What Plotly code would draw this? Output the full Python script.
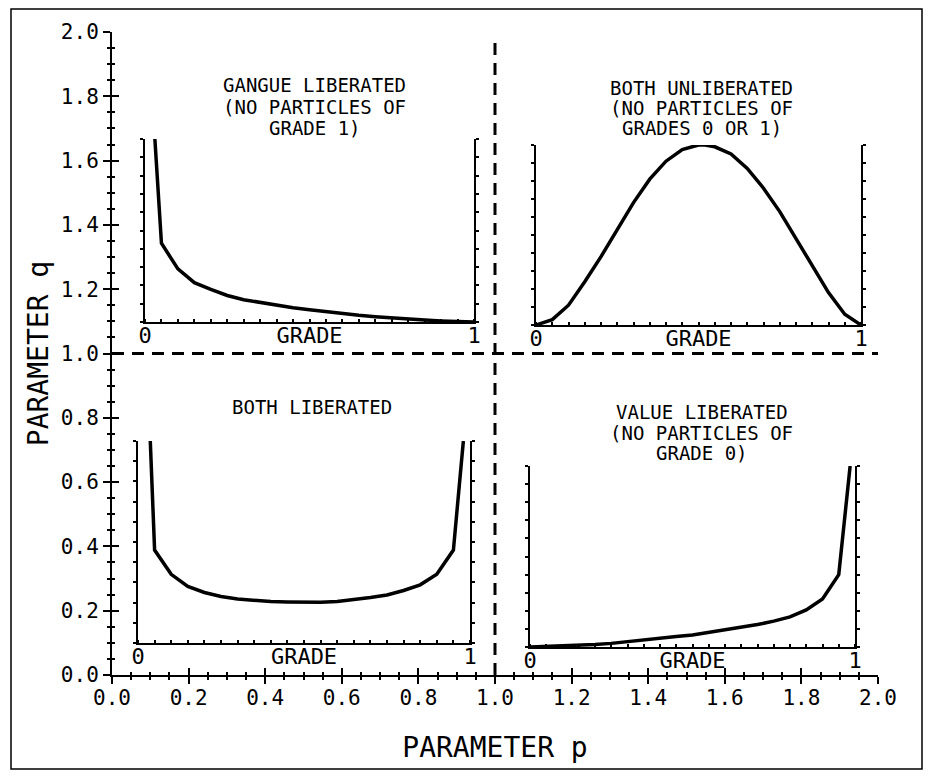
import plotly.graph_objects as go

# ---------------- data ----------------
# main axes (parameter p horizontally, parameter q vertically)
axis_tick_vals = [0.0, 0.2, 0.4, 0.6, 0.8, 1.0, 1.2, 1.4, 1.6, 1.8, 2.0]
axis_tick_text = ["0.0", "0.2", "0.4", "0.6", "0.8", "1.0", "1.2", "1.4", "1.6", "1.8", "2.0"]

# dashed dividers at p = 1 and q = 1
divider_v_p = [1.0, 1.0]
divider_v_q = [0.0, 1.975]
divider_h_p = [0.0, 2.0]
divider_h_q = [1.0, 1.0]

# inset curves: grade (0..1) vs relative frequency (0..1 of inset height)
gangue_grade = [0.03, 0.05, 0.10, 0.15, 0.20, 0.25, 0.30, 0.35, 0.40, 0.45, 0.50,
                0.55, 0.60, 0.65, 0.70, 0.75, 0.80, 0.85, 0.90, 0.95, 1.00]
gangue_freq = [1.00, 0.43, 0.29, 0.215, 0.178, 0.145, 0.122, 0.106, 0.090, 0.078, 0.067,
               0.056, 0.046, 0.037, 0.029, 0.022, 0.016, 0.011, 0.006, 0.003, 0.0]

unlib_grade = [0.0, 0.05, 0.10, 0.15, 0.20, 0.25, 0.30, 0.35, 0.40, 0.45, 0.50, 0.52,
               0.55, 0.60, 0.65, 0.70, 0.75, 0.80, 0.85, 0.90, 0.95, 1.00]
unlib_freq = [0.0, 0.03, 0.11, 0.24, 0.38, 0.53, 0.68, 0.81, 0.91, 0.975, 1.0, 1.0,
              0.99, 0.95, 0.87, 0.76, 0.63, 0.48, 0.33, 0.18, 0.06, 0.0]

bothlib_grade = [0.037, 0.05, 0.10, 0.15, 0.20, 0.25, 0.30, 0.35, 0.40, 0.45, 0.50,
                 0.55, 0.60, 0.65, 0.70, 0.75, 0.80, 0.85, 0.90, 0.95, 0.98]
bothlib_freq = [1.0, 0.46, 0.34, 0.28, 0.25, 0.23, 0.218, 0.21, 0.205, 0.203, 0.202,
                0.202, 0.206, 0.214, 0.225, 0.238, 0.26, 0.288, 0.34, 0.46, 1.0]

value_grade = [0.0, 0.05, 0.10, 0.15, 0.20, 0.25, 0.30, 0.35, 0.40, 0.45, 0.50,
               0.55, 0.60, 0.65, 0.70, 0.75, 0.80, 0.85, 0.90, 0.95, 0.985]
value_freq = [0.0, 0.003, 0.007, 0.010, 0.014, 0.02, 0.03, 0.042, 0.05, 0.058, 0.066,
              0.08, 0.093, 0.107, 0.124, 0.143, 0.166, 0.205, 0.265, 0.40, 1.0]

inset_tick_vals = [0, 0.5, 1]
inset_tick_text = ["0", "GRADE", "1"]

# inset titles: (p, q, text) — one entry per line
titles_p = [0.53, 0.53, 0.53, 1.54, 1.54, 1.54, 0.522, 1.54, 1.54, 1.54]
titles_q = [1.835, 1.767, 1.70, 1.826, 1.764, 1.701, 0.834, 0.818, 0.753, 0.690]
titles_text = ["GANGUE LIBERATED", "(NO PARTICLES OF", "GRADE 1)",
               "BOTH UNLIBERATED", "(NO PARTICLES OF", "GRADES 0 OR 1)",
               "BOTH LIBERATED",
               "VALUE LIBERATED", "(NO PARTICLES OF", "GRADE 0)"]

# ---------------- figure ----------------
FONT = "DejaVu Sans Mono"
OFF = 8                      # default page margin around the plot div
W, H = 933 - 2 * OFF, 778 - 2 * OFF
ML, MT = 112 - OFF, 32 - OFF
MR = W - (878 - OFF)
MB = H - (675 - OFF)
PW, PH = W - ML - MR, H - MT - MB


def fx(px):
    """page pixel x -> paper fraction"""
    return (px - OFF - ML) / PW


def fy(py):
    """page pixel y -> paper fraction"""
    return (H - MB - (py - OFF)) / PH


fig = go.Figure()

dash = dict(color="black", width=3, dash="12px,8px")
fig.add_trace(go.Scatter(x=divider_v_p, y=divider_v_q, mode="lines", line=dash,
                         xaxis="x", yaxis="y", showlegend=False, hoverinfo="skip"))
fig.add_trace(go.Scatter(x=divider_h_p, y=divider_h_q, mode="lines", line=dash,
                         xaxis="x6", yaxis="y6", showlegend=False, hoverinfo="skip"))

curve_line = dict(color="black", width=3.5)
curves = [(gangue_grade, gangue_freq, "2"), (unlib_grade, unlib_freq, "3"),
          (bothlib_grade, bothlib_freq, "4"), (value_grade, value_freq, "5")]
for gx, gy, k in curves:
    fig.add_trace(go.Scatter(x=gx, y=gy, mode="lines", line=curve_line,
                             xaxis="x" + k, yaxis="y" + k, showlegend=False,
                             hoverinfo="skip"))

main_common = dict(range=[0, 2], showgrid=False, zeroline=False, showline=True,
                   linecolor="black", linewidth=2, tickcolor="black", tickwidth=2)

layout = dict(
    width=W, height=H,
    margin=dict(l=ML, r=MR, t=MT, b=MB),
    paper_bgcolor="white", plot_bgcolor="rgba(0,0,0,0)",
    font=dict(family=FONT, color="black"),
    xaxis=dict(**main_common, domain=[0, 1], anchor="y",
               ticks="outside", ticklen=7, tickmode="array",
               tickvals=axis_tick_vals, ticktext=axis_tick_text,
               tickfont=dict(family=FONT, size=21), ticklabelstandoff=-4,
               minor=dict(dtick=0.05, tick0=0, ticks="outside", ticklen=3,
                          tickwidth=2, tickcolor="black"),
               title=dict(text="PARAMETER p", font=dict(family=FONT, size=28),
                          standoff=28)),
    yaxis=dict(**main_common, domain=[0, 1], anchor="x",
               ticks="outside", ticklen=7, tickmode="array",
               tickvals=axis_tick_vals, ticktext=axis_tick_text,
               tickfont=dict(family=FONT, size=21),
               minor=dict(dtick=0.05, tick0=0, ticks="outside", ticklen=3,
                          tickwidth=2, tickcolor="black"),
               title=dict(text="PARAMETER q", font=dict(family=FONT, size=28),
                          standoff=4)),
    xaxis6=dict(range=[0, 2], overlaying="x", anchor="y6", showgrid=False,
                zeroline=False, showline=False, ticks="inside", ticklen=7,
                tickwidth=2, tickcolor="black", tickmode="array",
                tickvals=axis_tick_vals, showticklabels=False,
                minor=dict(dtick=0.05, tick0=0, ticks="inside", ticklen=3,
                           tickwidth=2, tickcolor="black")),
    yaxis6=dict(range=[0, 2], overlaying="y", anchor="x6", showgrid=False,
                zeroline=False, showline=False, ticks="inside", ticklen=7,
                tickwidth=2, tickcolor="black", tickmode="array",
                tickvals=axis_tick_vals, showticklabels=False,
                minor=dict(dtick=0.05, tick0=0, ticks="inside", ticklen=3,
                           tickwidth=2, tickcolor="black")),
)

# inset placements in page pixels: left, right, bottom, top
inset_px = {"2": (145, 474, 322, 139),
            "3": (536, 861, 325, 145),
            "4": (138, 470, 643, 441),
            "5": (530, 855, 647, 466)}

for k, (l, r, b, t) in inset_px.items():
    layout["xaxis" + k] = dict(
        domain=[fx(l), fx(r)], anchor="y" + k, range=[0, 1],
        showgrid=False, zeroline=False, showline=True, linecolor="black",
        linewidth=2, ticks="", tickmode="array", tickvals=inset_tick_vals,
        ticktext=inset_tick_text, tickfont=dict(family=FONT, size=22),
        ticklabelstandoff=-7,
        minor=dict(dtick=0.05, tick0=0, ticks="inside", ticklen=3, tickwidth=2,
                   tickcolor="black"))
    layout["yaxis" + k] = dict(
        domain=[fy(b), fy(t)], anchor="x" + k, range=[0, 1],
        showgrid=False, zeroline=False, showline=True, linecolor="black",
        linewidth=2, mirror="ticks", ticks="outside", ticklen=3, tickwidth=2,
        tickcolor="black", dtick=0.1, tick0=0, showticklabels=False)

fig.update_layout(**layout)

for p, q, txt in zip(titles_p, titles_q, titles_text):
    fig.add_annotation(x=p, y=q, xref="x", yref="y", text=txt, showarrow=False,
                       xanchor="center", yanchor="middle",
                       font=dict(family=FONT, size=19, color="black"))

# outer frame of the figure
fig.add_shape(type="rect", xref="paper", yref="paper",
              x0=fx(11), x1=fx(922), y0=fy(769), y1=fy(9),
              line=dict(color="black", width=1.5), fillcolor="rgba(0,0,0,0)",
              layer="below")

fig.write_html("out.html")
